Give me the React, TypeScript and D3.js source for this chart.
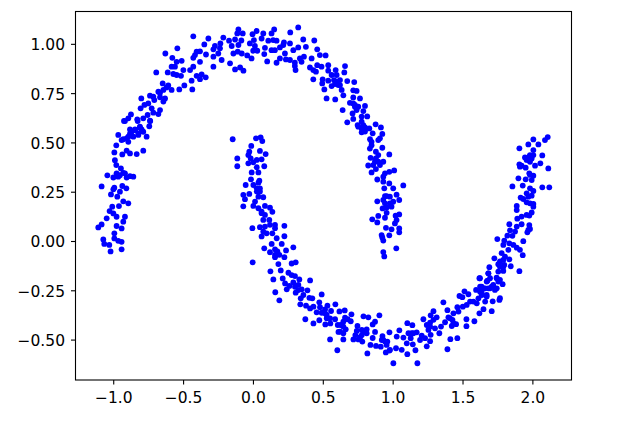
import React, { useEffect, useRef } from "react";
import * as d3 from "d3";

const xTicks = [-1, -0.5, 0, 0.5, 1, 1.5, 2];
const yTicks = [-0.5, -0.25, 0, 0.25, 0.5, 0.75, 1];

// upper moon from left to top to right
const upperLeft: [number, number][] = [
  [-.427,1.038],[-.319,1.027],[-.348,.997],[-.541,.977],[-.627,.951],[-.577,.929],[-.212,1.032],[-.104,1.073],[-.112,1.053],[-.073,1.053],
  [-.128,1.022],[-.171,1.016],[-.083,1.017],[-.233,1.002],[-.272,.989],[-.152,.989],[-.104,.994],[-.283,.972],[-.236,.977],[-.379,.962],
  [-.403,.960],[-.427,.929],[-.336,.946],[-.283,.935],[-.248,.951],[-.140,.951],[-.109,.960],[-.080,.951],[-.224,.918],[-.415,.943],
  [-.510,.914],[-.546,.909],[-.379,.909],[-.164,.901],[-.283,.884],[-.558,.884],[-.582,.884],[-.498,.867],[-.450,.867],[-.427,.884],
  [-.128,.870],[-.092,.880],[-.068,.864],[-.692,.855],[-.610,.855],[-.570,.847],[-.546,.842],[-.515,.838],[-.367,.845],[-.403,.838],
  [-.338,.830],[-.379,.821],[-.439,.813],[-.646,.799],[-.606,.789],[-.491,.789],[-.527,.769],[-.434,.769],[-.582,.766],[-.641,.766],
  [-.677,.757],[-.737,.737],[-.713,.732],[-.665,.729],[-.629,.723],[-.799,.723],[-.706,.715],[-.641,.707],[-.749,.698],[-.777,.690],
  [-.804,.673],[-.725,.673],[-.665,.664],[-.713,.651],[-.677,.644],[-.873,.642],[-.754,.639],[-.785,.622],[-.828,.617],[-.892,.622],
  [-.923,.609],[-.737,.610],[-.742,.582],[-.809,.580],[-.880,.566],[-.844,.566],[-.797,.560],[-.964,.538],[-.761,.529],[-.892,.529],
  [-.856,.529],[-.820,.538],[-.928,.516],
  [-.916,.608],[-.825,.608],[-.735,.608],[-.809,.576],[-.844,.562],[-.785,.554],[-.880,.545],[-.940,.512],[-.892,.503],[-.978,.485],
  [-.992,.449],[-.785,.458],[-.832,.441],[-.880,.444],[-.904,.458],[-.935,.439],[-.988,.410],[-.978,.385],[-.945,.368],[-1.042,.333],
  [-.976,.343],[-.999,.322],[-.952,.334],[-.916,.343],[-.880,.329],[-.856,.326],[-1.083,.277],[-.992,.270],[-.999,.262],[-.935,.279],
  [-.906,.267],[-1.016,.236],[-.952,.250],[-.971,.225],[-.928,.201],[-.892,.191],[-.959,.177],[-1.007,.174],[-1.026,.152],[-.999,.140],
  [-1.047,.115],[-.976,.123],[-.916,.123],[-.928,.098],[-.976,.076],[-1.083,.084],[-1.107,.069],[-.940,.064],[-.992,.039],[-1.071,.008],
  [-.992,.013],[-.964,.001],[-.940,-.004],[-1.064,-.015],[-1.028,-.020],[-.940,-.042],[-1.019,-.053],
];

const upperRight: [number, number][] = [
  [.026,1.065],[-.003,1.049],[.074,1.053],[.152,1.073],[.133,1.053],[.324,1.083],[.267,1.058],[.360,1.022],[.439,1.017],[.007,1.019],
  [.062,1.027],[-.022,1.002],[.014,.989],[.110,1.016],[.145,1.019],[.169,1.016],[.086,.980],[.133,.968],[.157,.968],[.193,.982],
  [.222,1.007],[.265,1.002],[.217,.994],[.324,.982],[.289,.968],[.379,.985],[.460,.972],[.002,.965],[.031,.965],[-.041,.941],
  [-.010,.926],[.081,.948],[.229,.951],[.193,.926],[.169,.904],[.102,.911],[.236,.921],[.265,.918],[.300,.904],[.336,.926],
  [.365,.935],[.348,.909],[.420,.926],[.479,.943],[.520,.941],[.305,.867],[.300,.887],[.408,.880],[.432,.867],[.460,.892],
  [.491,.884],[.451,.859],[.539,.892],[.539,.864],[.563,.842],[.592,.867],[.659,.887],[.654,.855],[.599,.842],[.432,.820],
  [.499,.820],[.539,.813],[.496,.799],[.580,.816],[.623,.816],[.675,.811],[.725,.806],[.611,.791],[.563,.786],[.635,.766],
  [.511,.769],[.718,.764],[.742,.761],[.647,.739],[.527,.723],[.589,.718],[.766,.723],[.718,.728],[.694,.701],[.730,.690],
  [.754,.681],[.802,.685],[.642,.664],[.790,.659],[.742,.664],[.713,.647],[.818,.632],[.778,.631],[.718,.619],[.675,.602],
  [.749,.588],[.878,.592],[.916,.576],[.778,.571],[.802,.576],[.833,.571],[.778,.551],[.802,.555],[.857,.546],[.926,.543],
  [.838,.516],[.909,.521],
  [.849,.486],[.897,.512],[.837,.469],[.926,.473],[.880,.453],[.976,.439],[.897,.436],[.842,.422],[.880,.419],[.933,.402],
  [.825,.383],[.861,.385],[.909,.385],[.880,.365],[.849,.348],[1.011,.358],[.976,.351],[.945,.343],[.933,.326],[.890,.312],
  [.976,.292],[.933,.301],[1.076,.282],[.940,.267],[1.004,.267],[1.028,.235],[.945,.228],[.980,.225],[.890,.201],[1.047,.208],
  [1.004,.199],[.945,.191],[.992,.174],[.928,.165],[.957,.143],[1.047,.135],[1.021,.128],[.897,.127],[.945,.118],[.854,.110],
  [.890,.094],[1.028,.106],[1.016,.089],[.952,.067],[.992,.059],[1.047,.064],[1.047,.044],[.921,.030],[.976,.029],[.926,.018],
  [.933,.002],[1.026,-.037],[.933,-.056],[.940,-.078],
];

// lower moon
const lowerLeft: [number, number][] = [
  [-.145,.516],[.022,.521],[.055,.526],[.067,.507],[-.012,.482],[.050,.457],[.091,.441],[-.026,.453],[-.033,.436],[-.112,.419],
  [-.016,.419],[.062,.414],[.027,.411],[-.033,.394],[.003,.399],[-.112,.379],[.027,.374],[.081,.379],[-.009,.348],[.039,.348],
  [-.014,.313],[.046,.306],[.039,.296],[-.052,.284],[.003,.284],[.027,.267],[.050,.251],[-.069,.234],[-.026,.239],[.074,.222],
  [-.057,.212],[.015,.200],[.039,.225],[-.069,.176],[.003,.178],[.039,.166],[.086,.178],[.122,.169],[.139,.148],[.062,.141],
  [.086,.132],[.074,.107],[.117,.107],[-.004,.065],[.050,.070],[.086,.073],[.122,.082],[.158,.082],[.158,.065],[.225,.077],
  [.074,.048],[.098,.039],[.139,.039],[.062,.023],[.225,.024],[.170,.014],[.134,-.015],[.206,-.015],[.081,-.037],[.289,-.032],
  [.122,-.057],[.158,-.042],[.237,-.048],[.189,-.070],[.158,-.082],[.225,-.082],
  [-.002,-.108],[.277,-.114],[.306,-.108],[.182,-.117],[.125,-.154],[.199,-.149],[.254,-.161],[.277,-.173],[.301,-.178],[.146,-.195],
  [.213,-.190],[.332,-.195],[.409,-.200],[.230,-.215],[.289,-.210],[.261,-.228],[.325,-.223],[.242,-.245],[.306,-.262],[.349,-.245],
  [.390,-.250],[.361,-.274],[.342,-.291],[.404,-.288],[.425,-.291],[.492,-.271],[.160,-.260],[.189,-.301],[.339,-.321],[.380,-.328],
  [.409,-.342],[.433,-.333],[.475,-.311],[.480,-.336],[.533,-.328],[.590,-.321],[.456,-.362],[.492,-.364],[.516,-.347],[.559,-.355],
  [.619,-.357],[.657,-.352],[.705,-.372],[.528,-.392],[.552,-.392],[.588,-.397],[.375,-.397],[.475,-.402],[.433,-.418],[.518,-.423],
  [.554,-.418],[.659,-.389],[.678,-.397],[.700,-.407],[.607,-.426],[.628,-.426],[.647,-.434],[.664,-.448],[.791,-.382],[.826,-.387],
  [.905,-.377],[.874,-.409],[.857,-.423],[.748,-.431],[.743,-.456],[.779,-.451],[.814,-.448],[.874,-.461],[.612,-.461],[.647,-.468],
  [.733,-.477],[.779,-.477],[.814,-.468],[.857,-.492],[.552,-.499],[.647,-.499],[.719,-.499],[.755,-.499],[.783,-.510],[.927,-.482],
  [.977,-.463],[.841,-.527],[.881,-.532],[.915,-.536],[.962,-.510],[.604,-.554],[.819,-.570],[.951,-.565],[.977,-.556],
];

const lowerRight: [number, number][] = [
  [1.621,-.189],[1.685,-.164],[1.745,-.189],[1.678,-.201],[1.514,-.255],[1.542,-.270],[1.478,-.279],[1.499,-.285],[1.626,-.231],[1.597,-.248],
  [1.662,-.240],[1.709,-.231],[1.745,-.240],[1.638,-.274],[1.673,-.282],[1.614,-.291],[1.662,-.307],[1.716,-.306],[1.764,-.299],[1.363,-.311],
  [1.554,-.307],[1.530,-.324],[1.602,-.316],[1.463,-.336],[1.392,-.351],[1.502,-.333],[1.650,-.346],[1.621,-.367],[1.709,-.356],[1.292,-.356],
  [1.471,-.358],[1.435,-.367],[1.272,-.377],[1.315,-.387],[1.399,-.387],[1.220,-.397],[1.428,-.400],[1.528,-.397],[1.585,-.407],[1.105,-.417],
  [1.141,-.427],[1.268,-.414],[1.244,-.426],[1.375,-.412],[1.346,-.434],[1.423,-.431],[1.454,-.422],[1.528,-.432],[1.048,-.453],[1.148,-.468],
  [1.256,-.451],[1.303,-.443],[1.113,-.468],[1.172,-.463],[1.334,-.468],[1.272,-.476],[1.029,-.485],[1.077,-.490],[1.208,-.480],[1.129,-.493],
  [1.232,-.493],[1.413,-.498],[1.463,-.493],[1.268,-.508],[1.196,-.502],[1.101,-.519],[1.144,-.524],[1.244,-.534],[1.024,-.544],[.981,-.552],
  [1.065,-.552],[1.163,-.554],[1.392,-.549],[1.105,-.574],[1.005,-.620],[1.177,-.620],
  [2.110,.527],[2.090,.512],[2.007,.515],[1.971,.490],[2.043,.490],[1.907,.470],[2.007,.461],[2.071,.434],[2.007,.436],[1.947,.424],
  [1.983,.436],[1.971,.411],[1.995,.419],[1.907,.389],[1.923,.382],[1.952,.372],[2.019,.382],[2.057,.394],[2.114,.368],[1.978,.343],
  [2.007,.331],[1.900,.318],[1.952,.313],[1.995,.309],[1.931,.281],[1.857,.277],[2.071,.272],[2.121,.272],[1.983,.267],[2.007,.254],
  [1.959,.242],[1.995,.230],[1.916,.220],[1.935,.213],[1.959,.196],[1.983,.191],[2.007,.188],[2.007,.174],[1.888,.178],[1.888,.157],
  [1.995,.145],[1.959,.132],[1.923,.124],[1.892,.113],[1.978,.129],[1.835,.085],[1.923,.085],[1.888,.073],[1.978,.081],[1.840,.054],
  [1.983,.061],[1.876,.048],[1.964,.044],[1.821,.027],[1.857,.026],[1.749,.010],[1.935,-.001],[1.799,.002],[1.792,-.020],[1.835,-.012],
  [1.864,-.020],[1.888,-.034],[1.828,-.045],[1.911,-.045],[1.780,-.062],[1.931,-.072],[1.728,-.088],[1.804,-.079],[1.768,-.104],[1.835,-.093],
  [1.756,-.118],[1.692,-.133],[1.799,-.121],[1.845,-.128],[1.907,-.153],[1.685,-.164],[1.792,-.152],[1.756,-.155],[1.625,-.189],[1.744,-.186],
  [1.697,-.189],[1.673,-.206],[1.756,-.206],[1.720,-.223],[1.787,-.219],[1.637,-.231],[1.685,-.240],[1.732,-.248],[1.637,-.265],[1.768,-.290],
  [1.673,-.273],
];

// points inside the blobs, where single dots are hard to tell apart
const blobs: [number, number][] = [
  [-.868,.554],[-.820,.545],[-.904,.520],[-.797,.566],[-.928,.346],[-.964,.326],[-.904,.322],[-.665,.752],[-.618,.779],
  [.599,.808],[.623,.791],[.587,.796],[.730,.681],[.718,.698],[.778,.605],[.790,.588],[.754,.580],[.790,.563],
  [.873,.402],[.897,.402],[.849,.503],[.957,.228],[.933,.208],[.980,.191],[.957,.170],
  [.027,.251],[.050,.267],[.062,.149],[.158,-.070],[.175,-.053],
  [.325,-.249],[.301,-.232],[.516,-.367],[.528,-.375],[.647,-.409],[.624,-.460],[.791,-.460],[.767,-.488],[.922,-.502],[.946,-.510],
  [1.136,-.468],[1.268,-.434],[1.292,-.400],[1.626,-.257],[1.638,-.248],[1.578,-.307],[.933,-.502],[.957,-.527],[1.411,-.392],[1.435,-.417],
  [1.978,.428],[1.959,.411],[1.983,.402],[1.911,.377],[1.983,.335],[1.971,.225],[1.971,.056],[1.792,-.096],[1.792,-.130],[1.768,-.130],
  [1.697,-.240],[1.649,-.240],[1.768,-.197],
];

const width = 629;
const height = 422;
const margin = { top: 11.5, right: 57.5, bottom: 42, left: 75.5 };
const font = "'DejaVu Sans', sans-serif";

export default function App() {
  const svgRef = useRef<SVGSVGElement | null>(null);

  useEffect(() => {
    if (!svgRef.current) return;
    const svg = d3.select(svgRef.current);
    svg.selectAll("*").remove();

    const x = d3.scaleLinear().domain([-1.27, 2.28]).range([margin.left, width - margin.right]);
    const y = d3.scaleLinear().domain([-0.705, 1.164]).range([height - margin.bottom, margin.top]);

    const points = [...upperLeft, ...upperRight, ...lowerLeft, ...lowerRight, ...blobs];
    svg.append("g")
      .selectAll("circle")
      .data(points)
      .join("circle")
      .attr("cx", (d) => x(d[0]))
      .attr("cy", (d) => y(d[1]))
      .attr("r", 2.9)
      .attr("fill", "#0000ff");

    const xAxis = d3.axisBottom(x).tickValues(xTicks).tickFormat(d3.format(".1f") as any).tickSize(4.5).tickPadding(7).tickSizeOuter(0);
    const yAxis = d3.axisLeft(y).tickValues(yTicks).tickFormat(d3.format(".2f") as any).tickSize(4.5).tickPadding(6).tickSizeOuter(0);

    svg.append("g").attr("transform", `translate(0,${height - margin.bottom})`).call(xAxis);
    const yGroup = svg.append("g").attr("transform", `translate(${margin.left},0)`).call(yAxis);
    yGroup.selectAll(".tick text").attr("dy", "0.38em");
    svg.selectAll(".domain").remove();
    svg.selectAll(".tick line").attr("stroke", "#000").attr("stroke-width", 1.1);
    svg.selectAll(".tick text").attr("fill", "#000").style("font-family", font).style("font-size", "15.5px");

    svg.append("rect")
      .attr("x", margin.left)
      .attr("y", margin.top)
      .attr("width", width - margin.left - margin.right)
      .attr("height", height - margin.top - margin.bottom)
      .attr("fill", "none")
      .attr("stroke", "#000")
      .attr("stroke-width", 1.1);
  }, []);

  return (
    <svg
      ref={svgRef}
      width={width}
      height={height}
      style={{ position: "absolute", left: 0, top: 0, display: "block", background: "#fff" }}
    />
  );
}
